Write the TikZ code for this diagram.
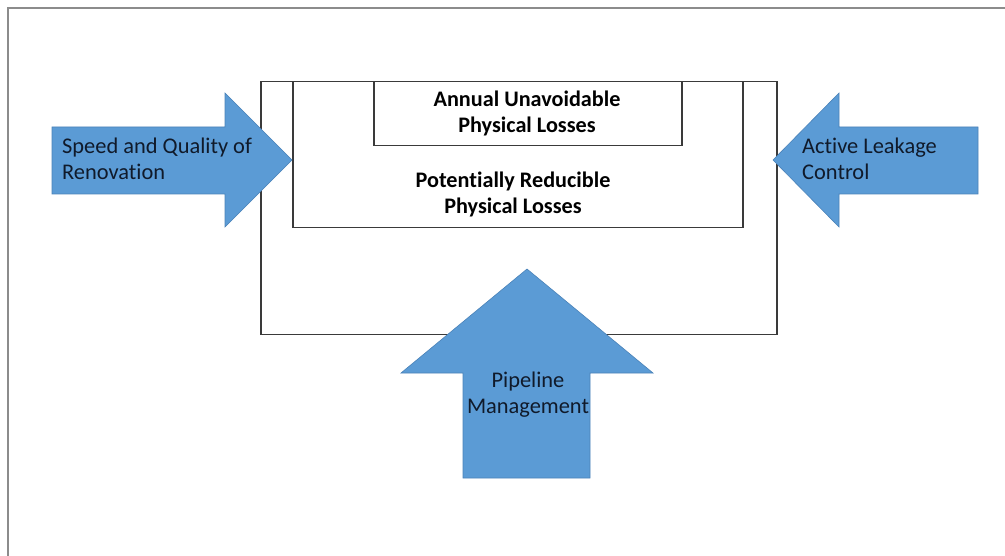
\documentclass[tikz,border=0pt]{standalone}
\usepackage{fontspec}
\setmainfont{Carlito}[Ligatures=NoCommon]
\definecolor{arrowblue}{HTML}{5B9BD5}
\definecolor{arrowedge}{HTML}{4A82B8}
\definecolor{boxgray}{HTML}{3A3A3A}
\definecolor{framegray}{HTML}{8C8C8C}
\definecolor{labelink}{HTML}{101A2A}
\begin{document}
\begin{tikzpicture}[x=1pt,y=-1pt,
  boxline/.style={draw=boxgray, line width=1.5pt, inner sep=0pt, anchor=north west},
  blockarrow/.style={fill=arrowblue, draw=arrowedge, line width=0.6pt, line join=miter},
  arrowtext/.style={text=labelink, font=\fontsize{22.4}{26}\selectfont, inner sep=0pt, align=left},
  losstext/.style={text=black, font=\bfseries\fontsize{22.2}{26.5}\selectfont, inner sep=0pt, align=center}]
\useasboundingbox (0,0) rectangle (1005,556);

% page frame (only the top and left edges are in view)
\draw[framegray, line width=1.5pt] (8,556) -- (8,8) -- (1005,8);

% nested loss boxes
\node[boxline, minimum width=516pt, minimum height=253pt] (outer) at (260,81) {};
\node[boxline, minimum width=450pt, minimum height=146pt] (middle) at (292,81) {};
\node[boxline, minimum width=308pt, minimum height=64pt] (inner) at (373,81) {};

% multi-line labels are placed by the baseline of their last line
\node[losstext, anchor=base] (unavoidable) at (527,133) {Annual Unavoidable\\Physical Losses};
\node[losstext, anchor=base] (reducible) at (513,214) {Potentially Reducible\\Physical Losses};

% block arrows pushing on the losses
\path[blockarrow] (52,127) -- (225,127) -- (225,93) -- (292,160) -- (225,227) -- (225,194) -- (52,194) -- cycle;
\path[blockarrow] (978,127) -- (839,127) -- (839,93) -- (773,160) -- (839,227) -- (839,194) -- (978,194) -- cycle;
\path[blockarrow] (527,269) -- (653,373) -- (590,373) -- (590,478) -- (463,478) -- (463,373) -- (401,373) -- cycle;

\node[arrowtext, anchor=base west] (renovation) at (62,180) {Speed and Quality of\\Renovation};
\node[arrowtext, anchor=base west] (leakage) at (802,180) {Active Leakage\\Control};
\node[arrowtext, align=center, anchor=base] (pipeline) at (528,413) {Pipeline\\Management};
\end{tikzpicture}
\end{document}
